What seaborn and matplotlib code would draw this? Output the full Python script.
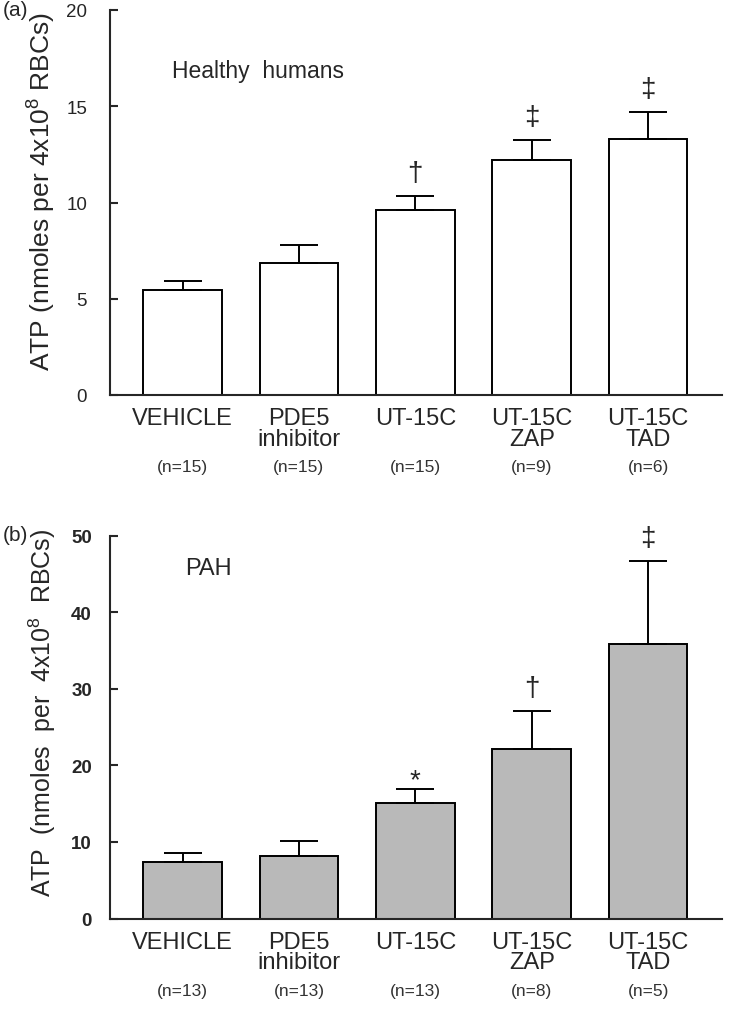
import numpy as np
import pandas as pd
import seaborn as sns
import matplotlib.pyplot as plt

# values (mean, upper error = SEM)
groups = ['VEHICLE', 'PDE5\ninhibitor', 'UT-15C', 'UT-15C\nZAP', 'UT-15C\nTAD']

healthy_mean = [5.45, 6.84, 9.59, 12.19, 13.28]
healthy_sem = [0.47, 0.96, 0.73, 1.04, 1.42]
healthy_n = ['(n=15)', '(n=15)', '(n=15)', '(n=9)', '(n=6)']
healthy_sig = ['', '', '†', '‡', '‡']

pah_mean = [7.4, 8.13, 15.14, 22.1, 35.8]
pah_sem = [1.09, 1.96, 1.79, 5.0, 10.9]
pah_n = ['(n=13)', '(n=13)', '(n=13)', '(n=8)', '(n=5)']
pah_sig = ['', '', '*', '†', '‡']

sns.set_style('ticks')
plt.rcParams['font.family'] = ['Liberation Sans', 'DejaVu Sans']
plt.rcParams['mathtext.fontset'] = 'custom'
plt.rcParams['mathtext.rm'] = 'Liberation Sans'
plt.rcParams['mathtext.it'] = 'Liberation Sans:italic'
plt.rcParams['mathtext.bf'] = 'Liberation Sans:bold'

W, H = 733, 1012
fig = plt.figure(figsize=(W / 100, H / 100), dpi=100)
ax1 = fig.add_axes([110 / W, 1 - 396 / H, 612 / W, 385 / H])
ax2 = fig.add_axes([110 / W, 1 - 919.5 / H, 612 / W, 383 / H])


def draw_panel(ax, means, sems, ns, sigs, fill, ymax, step, bold):
    df = pd.DataFrame({'group': groups, 'atp': means})
    sns.barplot(data=df, x='group', y='atp', color=fill, edgecolor='black',
                linewidth=1.4, width=0.674, saturation=1, ax=ax)
    x = np.arange(len(groups))
    ax.errorbar(x, means, yerr=[np.zeros(len(means)), sems], fmt='none',
                ecolor='black', elinewidth=1.4, capsize=14, capthick=1.4,
                zorder=3)
    for i, (m, s, sym) in enumerate(zip(means, sems, sigs)):
        if sym:
            off = 6 if sym == '*' else 16.5
            ax.annotate(sym, xy=(i, m + s), xytext=(0, off),
                        textcoords='offset points', ha='center', va='center',
                        fontsize=20)
    for i, n in enumerate(ns):
        ax.text(i, -0.187, n, transform=ax.get_xaxis_transform(),
                ha='center', va='center', fontsize=12.5, color='#333333')

    ax.set_xlim(-0.623, 4.635)
    ax.set_ylim(0, ymax)
    ax.set_yticks(np.arange(0, ymax + 1, step))
    ax.set_xlabel('')
    ax.set_ylabel('')
    sns.despine(ax=ax)
    for sp in ['left', 'bottom']:
        ax.spines[sp].set_linewidth(1.5)
    ax.tick_params(axis='y', direction='in', length=6, width=1.5,
                   pad=16.5 if not bold else 13, labelsize=13.5)
    ax.tick_params(axis='x', length=0, pad=9, labelsize=17)
    for lbl in ax.get_xticklabels():
        lbl.set_linespacing(0.9)
    if bold:
        plt.setp(ax.get_yticklabels(), fontweight='bold')


draw_panel(ax1, healthy_mean, healthy_sem, healthy_n, healthy_sig,
           'white', 20, 5, False)
draw_panel(ax2, pah_mean, pah_sem, pah_n, pah_sig,
           '#b9b9b9', 50, 10, True)

ax1.text(0.101, 0.844, 'Healthy  humans', transform=ax1.transAxes,
         ha='left', va='center', fontsize=16.5)
ax2.text(0.123, 0.916, 'PAH', transform=ax2.transAxes,
         ha='left', va='center', fontsize=17)

fig.text(42 / W, 1 - 191.5 / H, 'ATP (nmoles per 4x10$^{8}$ RBCs)',
         rotation=90, ha='center', va='center', fontsize=19)
fig.text(42 / W, 1 - 713 / H, 'ATP  (nmoles  per  4x10$^{8}$  RBCs)',
         rotation=90, ha='center', va='center', fontsize=18)

fig.text(3 / W, 1 - 1 / H, '(a)', ha='left', va='top', fontsize=15)
fig.text(3 / W, 1 - 526 / H, '(b)', ha='left', va='top', fontsize=15)

fig.savefig('out.png', dpi=100)
